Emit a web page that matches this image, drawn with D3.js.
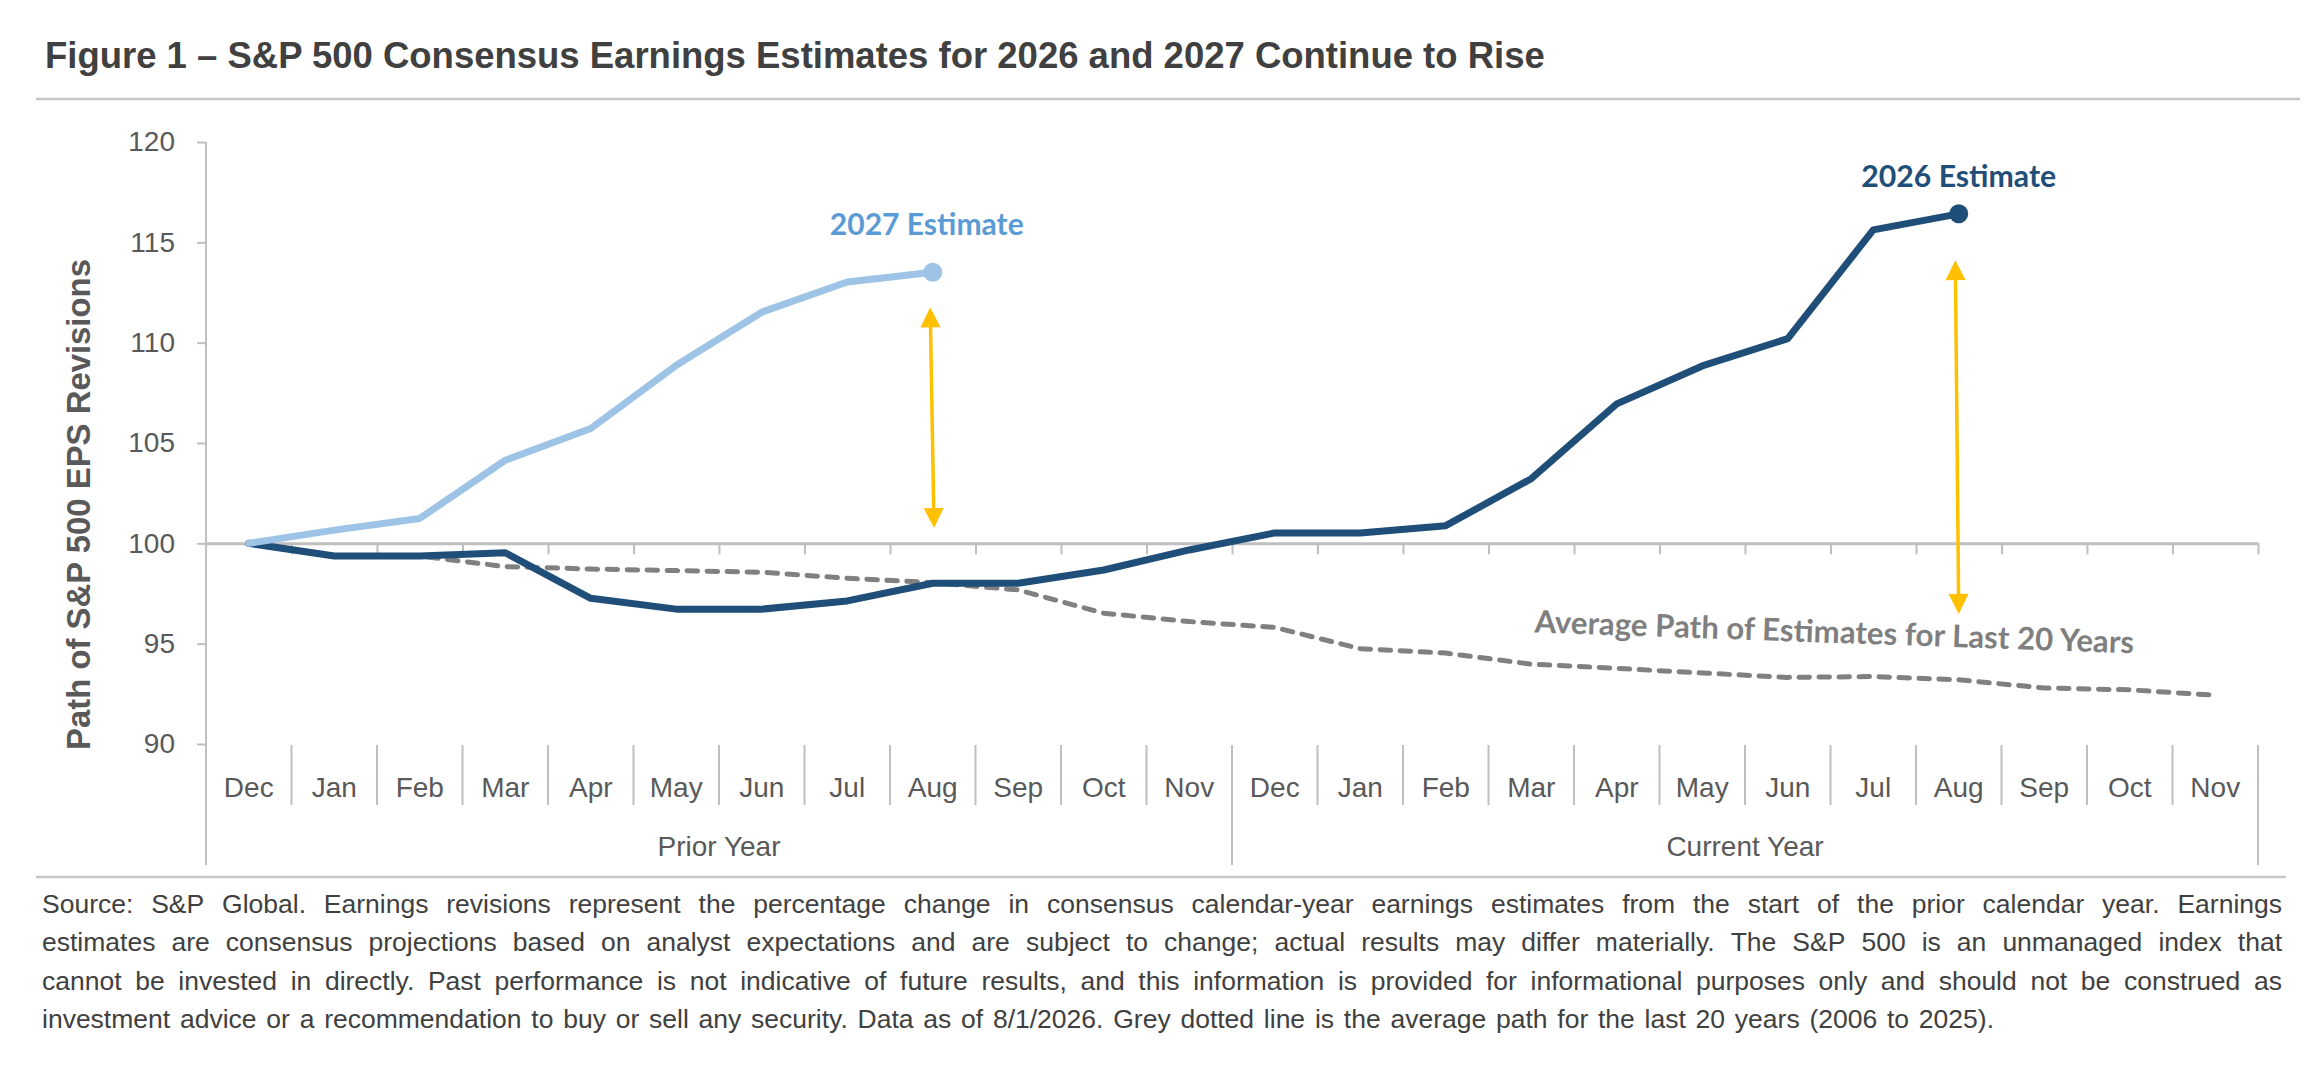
<!DOCTYPE html>
<html>
<head>
<meta charset="utf-8">
<script src="https://cdn.jsdelivr.net/npm/d3@7"></script>
<style>
  html, body { margin: 0; padding: 0; background: #ffffff; }
  svg { display: block; }
</style>
</head>
<body>
<svg id="chart" width="2323" height="1071"></svg>
<script>
// ---------------- DATA ----------------
const titleText = "Figure 1 – S&P 500 Consensus Earnings Estimates for 2026 and 2027 Continue to Rise";
const yAxisTitle = "Path of S&P 500 EPS Revisions";
const months = ["Dec","Jan","Feb","Mar","Apr","May","Jun","Jul","Aug","Sep","Oct","Nov",
                "Dec","Jan","Feb","Mar","Apr","May","Jun","Jul","Aug","Sep","Oct","Nov"];
const groups = ["Prior Year", "Current Year"];
const yTicks = [90, 95, 100, 105, 110, 115, 120];

// 2027 estimate (light blue), Dec of prior year .. Aug
const est2027 = [100, 100.66, 101.24, 104.14, 105.72, 108.87, 111.52, 113.02, 113.51];
// 2026 estimate (dark blue), Dec of prior year .. Aug of current year
const est2026 = [100, 99.37, 99.37, 99.53, 97.26, 96.72, 96.72, 97.13, 98.01, 98.01, 98.67, 99.67,
                 100.52, 100.52, 100.88, 103.22, 106.95, 108.84, 110.20, 115.62, 116.42];
// Average path of estimates for last 20 years (grey dashed)
const avgPath = [100, 99.37, 99.37, 98.84, 98.72, 98.64, 98.56, 98.26, 98.04, 97.68, 96.52, 96.10,
                 95.81, 94.75, 94.53, 93.98, 93.77, 93.54, 93.32, 93.36, 93.20, 92.79, 92.70, 92.43];

// Annotation arrows: category position (index) of top/bottom end, and values of the tips
const arrowTopIdx = [7.97, 19.96];
const arrowBotIdx = [8.015, 20.0];
const arrowTopVal = [111.76, 114.11];
const arrowBotVal = [100.76, 96.48];

// Annotation labels: text, category position, value at baseline
const labelTexts = ["2027 Estimate", "2026 Estimate", "Average Path of Estimates for Last 20 Years"];
const labelIdx = [7.93, 20.0, 18.54];
const labelVal = [115.35, 117.78, 95.04];

const footerLines = [
  "Source: S&P Global. Earnings revisions represent the percentage change in consensus calendar-year earnings estimates from the start of the prior calendar year. Earnings",
  "estimates are consensus projections based on analyst expectations and are subject to change; actual results may differ materially. The S&P 500 is an unmanaged index that",
  "cannot be invested in directly. Past performance is not indicative of future results, and this information is provided for informational purposes only and should not be construed as",
  "investment advice or a recommendation to buy or sell any security. Data as of 8/1/2026. Grey dotted line is the average path for the last 20 years (2006 to 2025)."
];

// ---------------- LAYOUT / STYLE ----------------
const ARIAL = "'Liberation Sans', Arial, Helvetica, sans-serif";
const CALIBRI = "Lato, 'Open Sans', sans-serif";
const AXIS_GREY = "#bfbfbf";
const TEXT_GREY = "#595959";
const DARK_BLUE = "#1f4e79";
const LIGHT_BLUE = "#9dc3e6";
const LABEL_BLUE = "#5b9bd5";
const DASH_GREY = "#808080";
const GOLD = "#ffc000";

const X0 = 206, X1 = 2258, YT = 142, YB = 744, CAT_BOTTOM = 805, BOTTOM = 865;

const svg = d3.select("#chart");

const xb = d3.scaleLinear().domain([0, months.length]).range([X0, X1]); // boundaries
const xp = i => xb(i + 0.5);                                            // band centers
const y = d3.scaleLinear().domain([90, 120]).range([YB, YT]);

function fitWidth(sel, target) {
  const w = sel.node().getComputedTextLength();
  const fs = parseFloat(sel.attr("font-size"));
  sel.attr("font-size", fs * target / w);
}

// ---------------- TITLE ----------------
const title = svg.append("text")
  .attr("x", 45).attr("y", 68)
  .attr("font-family", ARIAL).attr("font-weight", "bold")
  .attr("font-size", 34).attr("fill", "#404040")
  .text(titleText);
fitWidth(title, 1500);

svg.append("line").attr("x1", 36).attr("x2", 2300).attr("y1", 99).attr("y2", 99)
  .attr("stroke", "#c6c6c6").attr("stroke-width", 2.5);

// ---------------- Y AXIS ----------------
const gy = svg.append("g").attr("transform", `translate(${X0},0)`)
  .call(d3.axisLeft(y).tickValues(yTicks).tickSize(9).tickPadding(22).tickSizeOuter(0));
gy.select(".domain").remove();
gy.selectAll(".tick line").attr("stroke", AXIS_GREY).attr("stroke-width", 2);
gy.selectAll(".tick text").attr("font-family", ARIAL).attr("font-size", 28)
  .attr("fill", TEXT_GREY);

svg.append("line").attr("x1", X0).attr("x2", X0).attr("y1", YT).attr("y2", BOTTOM)
  .attr("stroke", AXIS_GREY).attr("stroke-width", 2);

const yTitle = svg.append("text")
  .attr("transform", `translate(90, ${(YT + BOTTOM) / 2 + 1}) rotate(-90)`)
  .attr("text-anchor", "middle")
  .attr("font-family", ARIAL).attr("font-weight", "bold")
  .attr("font-size", 30).attr("fill", TEXT_GREY)
  .text(yAxisTitle);
fitWidth(yTitle, 491);

// ---------------- X AXIS (on 100 line) ----------------
const gx = svg.append("g").attr("transform", `translate(0,${y(100)})`)
  .call(d3.axisBottom(xb).tickValues(d3.range(1, months.length + 1)).tickSize(11)
        .tickSizeOuter(0).tickFormat(""));
gx.select(".domain").attr("stroke", AXIS_GREY).attr("stroke-width", 3);
gx.selectAll(".tick line").attr("stroke", AXIS_GREY).attr("stroke-width", 2);

// Category table below plot
const gc = svg.append("g");
gc.selectAll("line.div").data(d3.range(1, months.length + 1)).join("line")
  .attr("class", "div")
  .attr("x1", d => xb(d)).attr("x2", d => xb(d))
  .attr("y1", YB + 1)
  .attr("y2", d => (d % 12 === 0) ? BOTTOM : CAT_BOTTOM)
  .attr("stroke", AXIS_GREY).attr("stroke-width", 2);

gc.selectAll("text.month").data(months).join("text")
  .attr("class", "month")
  .attr("x", (d, i) => xp(i)).attr("y", 797)
  .attr("text-anchor", "middle")
  .attr("font-family", ARIAL).attr("font-size", 28).attr("fill", TEXT_GREY)
  .text(d => d);

gc.selectAll("text.group").data(groups).join("text")
  .attr("class", "group")
  .attr("x", (d, i) => xb(i * 12 + 6)).attr("y", 856)
  .attr("text-anchor", "middle")
  .attr("font-family", ARIAL).attr("font-size", 28).attr("fill", TEXT_GREY)
  .text(d => d);

// ---------------- SERIES ----------------
const line = d3.line().x((d, i) => xp(i)).y(d => y(d));

svg.append("path").datum(avgPath)
  .attr("d", line).attr("fill", "none")
  .attr("stroke", DASH_GREY).attr("stroke-width", 5)
  .attr("stroke-dasharray", "10.5,9.5").attr("stroke-linecap", "round")
  .attr("stroke-linejoin", "round");

svg.append("path").datum(est2026)
  .attr("d", line).attr("fill", "none")
  .attr("stroke", DARK_BLUE).attr("stroke-width", 7)
  .attr("stroke-linejoin", "round").attr("stroke-linecap", "round");

svg.append("circle")
  .attr("cx", xp(est2026.length - 1)).attr("cy", y(est2026[est2026.length - 1]))
  .attr("r", 9.5).attr("fill", DARK_BLUE);

svg.append("path").datum(est2027)
  .attr("d", line).attr("fill", "none")
  .attr("stroke", LIGHT_BLUE).attr("stroke-width", 7)
  .attr("stroke-linejoin", "round").attr("stroke-linecap", "round");

svg.append("circle")
  .attr("cx", xp(est2027.length - 1)).attr("cy", y(est2027[est2027.length - 1]))
  .attr("r", 9.5).attr("fill", LIGHT_BLUE);

// ---------------- ARROWS ----------------
function arrowHead(tipX, tipY, dirX, dirY, len, half) {
  const bx = tipX - dirX * len, by = tipY - dirY * len;
  const px = -dirY, py = dirX;
  return `M${tipX},${tipY}L${bx + px * half},${by + py * half}L${bx - px * half},${by - py * half}Z`;
}
arrowTopIdx.forEach((ti, k) => {
  const tx = xp(ti), ty = y(arrowTopVal[k]);
  const bx = xp(arrowBotIdx[k]), by = y(arrowBotVal[k]);
  const L = Math.hypot(bx - tx, by - ty);
  const ux = (bx - tx) / L, uy = (by - ty) / L;
  const g = svg.append("g");
  g.append("line")
    .attr("x1", tx + ux * 15).attr("y1", ty + uy * 15)
    .attr("x2", bx - ux * 15).attr("y2", by - uy * 15)
    .attr("stroke", GOLD).attr("stroke-width", 3.5);
  g.append("path").attr("d", arrowHead(tx, ty, -ux, -uy, 20, 10)).attr("fill", GOLD);
  g.append("path").attr("d", arrowHead(bx, by, ux, uy, 20, 10)).attr("fill", GOLD);
});

// ---------------- LABELS ----------------
const lab27 = svg.append("text")
  .attr("x", xp(labelIdx[0])).attr("y", y(labelVal[0]))
  .attr("text-anchor", "middle")
  .attr("font-family", CALIBRI).attr("font-weight", "bold")
  .attr("font-size", 30).attr("fill", LABEL_BLUE)
  .text(labelTexts[0]);
fitWidth(lab27, 194);

const lab26 = svg.append("text")
  .attr("x", xp(labelIdx[1])).attr("y", y(labelVal[1]))
  .attr("text-anchor", "middle")
  .attr("font-family", CALIBRI).attr("font-weight", "bold")
  .attr("font-size", 30).attr("fill", DARK_BLUE)
  .text(labelTexts[1]);
fitWidth(lab26, 195);

const labAvg = svg.append("text")
  .attr("transform", `translate(${xp(labelIdx[2])},${y(labelVal[2])}) rotate(2)`)
  .attr("text-anchor", "middle")
  .attr("font-family", CALIBRI).attr("font-weight", "bold")
  .attr("font-size", 30).attr("fill", "#7f7f7f")
  .text(labelTexts[2]);
fitWidth(labAvg, 600);

// ---------------- FOOTER ----------------
svg.append("line").attr("x1", 36).attr("x2", 2286).attr("y1", 877).attr("y2", 877)
  .attr("stroke", "#c6c6c6").attr("stroke-width", 2.5);

const FOOT_X = 42;
const FOOT_FS = 26.5;
const footerTargets = [2240, 2240, 2240, 1952];
const probe = svg.append("text").attr("font-family", ARIAL).attr("x", -9999).attr("y", -9999);
function measure(str, fs) {
  probe.attr("font-size", fs).text(str);
  return probe.node().getComputedTextLength();
}

footerLines.forEach((t, i) => {
  const words = t.split(" ");
  const widths = words.map(w => measure(w, FOOT_FS));
  const total = d3.sum(widths);
  const gap = (footerTargets[i] - total) / (words.length - 1);
  const txt = svg.append("text")
    .attr("y", 913 + i * 38.4)
    .attr("font-family", ARIAL).attr("font-size", FOOT_FS).attr("fill", "#404040");
  let cx = FOOT_X;
  words.forEach((w, k) => {
    txt.append("tspan").attr("x", cx).text(w);
    cx += widths[k] + gap;
  });
});
probe.remove();
</script>
</body>
</html>
